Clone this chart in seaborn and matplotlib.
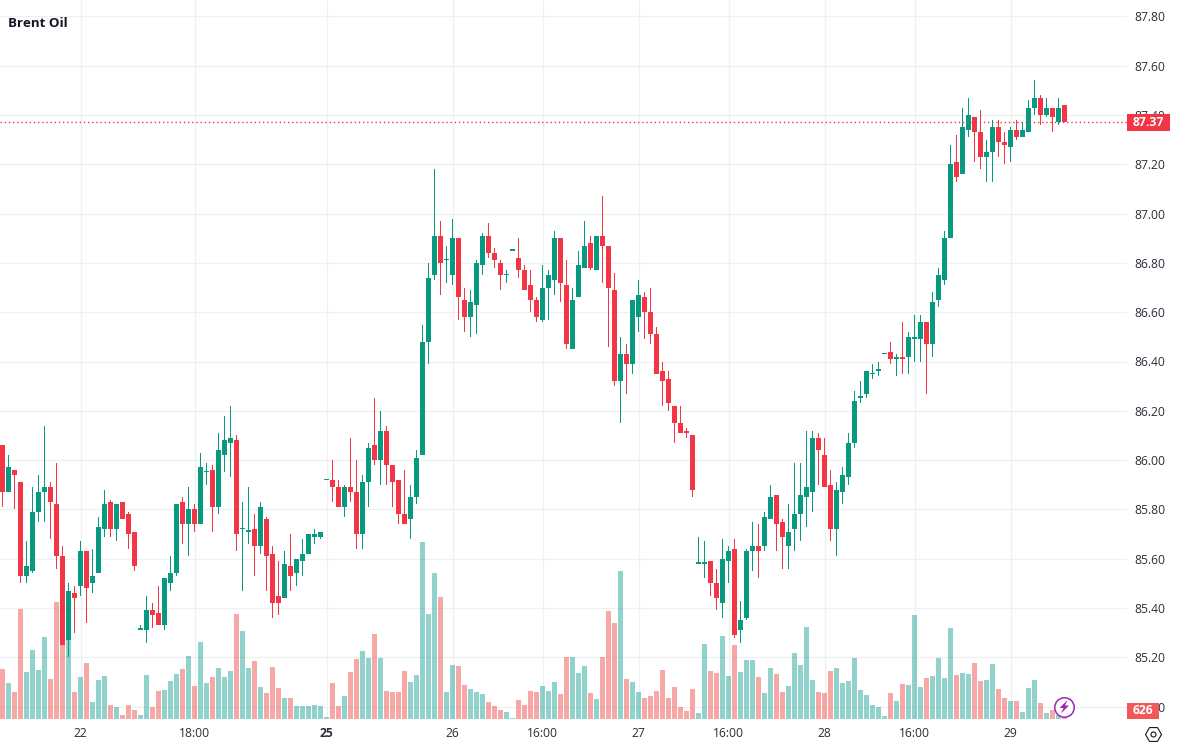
import matplotlib

matplotlib.use("Agg")
import matplotlib.pyplot as plt
import numpy as np
import pandas as pd
import seaborn as sns
from matplotlib.lines import Line2D
from matplotlib.patches import Polygon, Rectangle

# Velas de Brent Oil
opens = [
    86.06, 85.87, 85.96, 85.91, 85.53, 85.55, 85.79, 85.87, 85.89, 85.82,
    85.61, 85.27, 85.46, 85.49, 85.63, 85.50, 85.54, 85.72, 85.83, 85.72,
    85.83, 85.78, 85.71, 85.31, 85.31, 85.39, 85.38, 85.33, 85.50, 85.54,
    85.83, 85.74, 85.80, 85.74, 85.95, 85.96, 85.81, 86.02, 86.07, 86.08,
    85.72, 85.71, 85.72, 85.65, 85.76, 85.62, 85.45, 85.44, 85.57, 85.54,
    85.59, 85.62, 85.69, 85.69, 85.92, 85.92, 85.89, 85.81, 85.89, 85.87,
    85.70, 85.91, 86.06, 86.00, 86.12, 85.98, 85.92, 85.78, 85.76, 85.85,
    86.02, 86.48, 86.75, 86.91, 86.81, 86.75, 86.90, 86.65, 86.58, 86.63,
    86.79, 86.91, 86.84, 86.80, 86.75, 86.85, 86.82, 86.77, 86.71, 86.65,
    86.57, 86.70, 86.73, 86.90, 86.71, 86.45, 86.66, 86.78, 86.88, 86.77,
    86.91, 86.87, 86.69, 86.32, 86.43, 86.39, 86.58, 86.66, 86.60, 86.51,
    86.36, 86.33, 86.22, 86.15, 86.12, 86.10, 85.58, 85.58, 85.59, 85.50,
    85.42, 85.59, 85.64, 85.31, 85.36, 85.63, 85.65, 85.65, 85.76, 85.86,
    85.75, 85.65, 85.72, 85.78, 85.85, 85.87, 86.09, 86.02, 85.90, 85.72,
    85.87, 85.93, 86.07, 86.25, 86.27, 86.35, 86.36, 86.43, 86.44, 86.41,
    86.42, 86.42, 86.49, 86.49, 86.56, 86.47, 86.65, 86.73, 86.90, 87.21,
    87.16, 87.34, 87.39, 87.33, 87.23, 87.25, 87.35, 87.29, 87.27, 87.34,
    87.31, 87.33, 87.43, 87.47, 87.40, 87.43, 87.37, 87.44,
]
highs = [
    86.06, 86.02, 85.96, 85.91, 85.67, 85.89, 85.94, 86.14, 85.91, 85.99,
    85.65, 85.50, 85.49, 85.67, 85.63, 85.64, 85.77, 85.88, 85.84, 85.82,
    85.83, 85.79, 85.71, 85.33, 85.45, 85.42, 85.49, 85.52, 85.61, 85.82,
    85.85, 85.89, 85.82, 86.03, 85.99, 85.98, 86.11, 86.18, 86.22, 86.10,
    85.83, 85.89, 85.78, 85.83, 85.77, 85.65, 85.59, 85.63, 85.70, 85.60,
    85.68, 85.70, 85.72, 85.71, 85.92, 86.00, 85.92, 85.90, 86.09, 86.00,
    85.94, 86.07, 86.25, 86.20, 86.14, 85.98, 85.92, 85.96, 85.90, 86.04,
    86.55, 86.80, 87.18, 86.97, 86.87, 86.98, 86.90, 86.70, 86.69, 86.81,
    86.92, 86.96, 86.86, 86.81, 86.77, 86.85, 86.90, 86.79, 86.77, 86.66,
    86.79, 86.77, 86.93, 86.90, 86.81, 86.70, 86.85, 86.97, 86.91, 86.91,
    87.07, 86.87, 86.76, 86.50, 86.47, 86.65, 86.73, 86.68, 86.70, 86.54,
    86.40, 86.36, 86.22, 86.22, 86.13, 86.10, 85.69, 85.67, 85.59, 85.56,
    85.68, 85.65, 85.68, 85.43, 85.64, 85.75, 85.74, 85.79, 85.90, 85.86,
    85.76, 85.82, 85.99, 85.99, 86.12, 86.12, 86.11, 86.09, 85.96, 85.91,
    85.97, 86.11, 86.28, 86.32, 86.36, 86.39, 86.40, 86.43, 86.48, 86.43,
    86.56, 86.52, 86.59, 86.59, 86.56, 86.68, 86.78, 86.93, 87.28, 87.32,
    87.43, 87.47, 87.39, 87.42, 87.30, 87.38, 87.38, 87.33, 87.35, 87.38,
    87.37, 87.46, 87.54, 87.48, 87.47, 87.43, 87.47, 87.44,
]
lows = [
    85.81, 85.87, 85.80, 85.50, 85.50, 85.54, 85.75, 85.75, 85.68, 85.56,
    85.25, 85.20, 85.30, 85.45, 85.34, 85.46, 85.54, 85.69, 85.69, 85.67,
    85.76, 85.64, 85.55, 85.31, 85.26, 85.32, 85.33, 85.31, 85.47, 85.53,
    85.66, 85.61, 85.71, 85.74, 85.90, 85.71, 85.78, 85.95, 85.93, 85.63,
    85.47, 85.66, 85.53, 85.62, 85.47, 85.36, 85.37, 85.44, 85.47, 85.49,
    85.53, 85.62, 85.66, 85.68, 85.92, 85.83, 85.81, 85.77, 85.83, 85.64,
    85.64, 85.81, 85.98, 85.90, 85.90, 85.81, 85.74, 85.74, 85.68, 85.82,
    86.02, 86.39, 86.73, 86.67, 86.72, 86.71, 86.57, 86.52, 86.50, 86.51,
    86.75, 86.82, 86.78, 86.69, 86.72, 86.85, 86.74, 86.69, 86.60, 86.56,
    86.56, 86.57, 86.67, 86.64, 86.45, 86.45, 86.66, 86.78, 86.77, 86.77,
    86.72, 86.46, 86.30, 86.15, 86.27, 86.35, 86.52, 86.49, 86.47, 86.35,
    86.22, 86.20, 86.07, 86.11, 86.09, 85.85, 85.58, 85.52, 85.45, 85.39,
    85.36, 85.50, 85.28, 85.26, 85.35, 85.55, 85.52, 85.63, 85.76, 85.63,
    85.56, 85.56, 85.63, 85.67, 85.73, 85.79, 85.90, 85.89, 85.67, 85.61,
    85.82, 85.90, 86.05, 86.23, 86.25, 86.33, 86.34, 86.43, 86.39, 86.34,
    86.35, 86.35, 86.40, 86.40, 86.27, 86.42, 86.62, 86.71, 86.90, 87.13,
    87.16, 87.31, 87.21, 87.18, 87.13, 87.13, 87.23, 87.20, 87.21, 87.30,
    87.31, 87.33, 87.40, 87.36, 87.39, 87.33, 87.36, 87.37,
]
closes = [
    85.87, 85.97, 85.94, 85.53, 85.57, 85.79, 85.87, 85.89, 85.83, 85.61,
    85.25, 85.47, 85.44, 85.63, 85.48, 85.53, 85.73, 85.82, 85.72, 85.82,
    85.76, 85.70, 85.57, 85.32, 85.39, 85.37, 85.33, 85.52, 85.54, 85.82,
    85.74, 85.80, 85.74, 85.97, 85.95, 85.81, 86.04, 86.08, 86.09, 85.70,
    85.72, 85.71, 85.65, 85.81, 85.61, 85.42, 85.42, 85.58, 85.53, 85.60,
    85.62, 85.70, 85.70, 85.71, 85.92, 85.89, 85.81, 85.89, 85.87, 85.70,
    85.91, 86.05, 86.00, 86.12, 85.98, 85.91, 85.78, 85.74, 85.85, 86.01,
    86.48, 86.74, 86.91, 86.80, 86.81, 86.90, 86.66, 86.58, 86.64, 86.80,
    86.91, 86.84, 86.81, 86.75, 86.75, 86.85, 86.77, 86.69, 86.65, 86.58,
    86.70, 86.75, 86.90, 86.72, 86.47, 86.65, 86.79, 86.87, 86.78, 86.91,
    86.87, 86.70, 86.32, 86.43, 86.39, 86.65, 86.67, 86.60, 86.51, 86.35,
    86.32, 86.23, 86.15, 86.11, 86.11, 85.88, 85.58, 85.58, 85.50, 85.44,
    85.60, 85.63, 85.29, 85.35, 85.63, 85.65, 85.63, 85.77, 85.85, 85.74,
    85.69, 85.71, 85.78, 85.86, 85.89, 86.09, 86.04, 85.89, 85.72, 85.88,
    85.94, 86.07, 86.24, 86.26, 86.36, 86.35, 86.37, 86.43, 86.41, 86.42,
    86.41, 86.50, 86.50, 86.56, 86.47, 86.64, 86.75, 86.90, 87.20, 87.15,
    87.35, 87.40, 87.33, 87.23, 87.25, 87.35, 87.29, 87.28, 87.34, 87.31,
    87.34, 87.43, 87.47, 87.40, 87.43, 87.39, 87.43, 87.37,
]
volumes = [
    2100, 1680, 1410, 3900, 2010, 2670, 2070, 3060, 1800, 4110,
    2970, 3070, 1410, 1860, 2280, 1110, 1770, 1890, 1020, 960,
    720, 1020, 870, 720, 1920, 960, 1440, 1470, 1740, 1950,
    2100, 2490, 1590, 2910, 1680, 1860, 2130, 1860, 2040, 3750,
    3240, 2130, 2340, 1560, 1380, 2160, 1530, 1230, 1230, 990,
    990, 990, 1020, 990, 660, 1680, 990, 1290, 2010, 2400,
    2640, 2430, 3150, 2430, 1440, 1410, 1410, 2040, 1710, 1920,
    5910, 3750, 4980, 4260, 1410, 2220, 2190, 1620, 1500, 1410,
    1350, 1110, 990, 870, 810, 630, 1170, 1020, 1440, 1410,
    1590, 1440, 1710, 1350, 2460, 2460, 1980, 2190, 1380, 1200,
    2460, 3840, 3480, 5040, 1800, 1710, 1410, 1230, 1290, 1440,
    2070, 1230, 1560, 960, 840, 1500, 780, 2850, 2040, 1980,
    3090, 1890, 2820, 2010, 2370, 2370, 1860, 1380, 2130, 1950,
    1410, 1590, 2580, 2220, 3360, 1770, 1410, 1380, 2040, 2130,
    1680, 1740, 2430, 1470, 1320, 1020, 960, 690, 1380, 1140,
    1650, 1620, 3720, 1560, 1830, 1890, 2430, 1830, 3330, 1920,
    1980, 1950, 2280, 1740, 1770, 2250, 1500, 1230, 1140, 1140,
    810, 1530, 1770, 1080, 780, 870, 720, 626,
]

# Ejes: posicion de cada etiqueta (numero de vela) y precios
time_ticks = [13, 32, 54, 75, 90, 106, 121, 137, 152, 168]
time_labels = ["22", "18:00", "25", "26", "16:00", "27", "16:00", "28", "16:00", "29"]
price_ticks = [85.0, 85.2, 85.4, 85.6, 85.8, 86.0, 86.2, 86.4, 86.6, 86.8, 87.0, 87.2, 87.4, 87.6, 87.8]

UP = "#089981"
DOWN = "#f23645"
UP_VOL = "#26a69a"
DOWN_VOL = "#ef5350"
GRID = "#eff0f2"
TEXT = "#131722"
W, H = 1200, 747
PLOT_W, PLOT_H = 1127, 719


# Pasar de pixeles de la imagen a coordenadas de figura
def fx(px):
    return px / W


def fy(py):
    return 1 - py / H


df = pd.DataFrame({"i": np.arange(len(opens)), "open": opens, "high": highs, "low": lows, "close": closes, "volume": volumes})
df["dir"] = np.where(df["close"] >= df["open"], "up", "down")

sns.set_theme(style="white")
plt.rcParams["font.family"] = ["Open Sans", "DejaVu Sans"]

fig = plt.figure(figsize=(W / 100, H / 100), dpi=100)
rect = [0, 1 - PLOT_H / H, PLOT_W / W, PLOT_H / H]
xlim = (-2.5 / 6, (PLOT_W - 2.5) / 6)
ylim = (87 - (PLOT_H - 213.6) / 246.5, 87 + 213.6 / 246.5)

# Cuadricula y etiquetas
ax = fig.add_axes(rect, zorder=1)
ax.set_xlim(xlim)
ax.set_ylim(ylim)
ax.set_xticks(time_ticks, time_labels)
ax.set_yticks(price_ticks, [f"{p:.2f}" for p in price_ticks])
ax.yaxis.tick_right()
ax.grid(True, color=GRID, linewidth=1)
ax.tick_params(axis="both", length=0, labelsize=8.7, labelcolor="#2a2e39")
ax.tick_params(axis="y", pad=5.5)
ax.tick_params(axis="x", pad=6)
ax.get_xticklabels()[2].set_fontweight("bold")
sns.despine(ax=ax, left=True, bottom=True, top=True, right=True)

# Volumen
vol_ax = fig.add_axes(rect, zorder=2)
vol_ax.patch.set_alpha(0)
sns.barplot(
    data=df,
    x="i",
    y="volume",
    hue="dir",
    palette={"up": UP_VOL, "down": DOWN_VOL},
    native_scale=True,
    dodge=False,
    width=5 / 6,
    saturation=1,
    alpha=0.5,
    legend=False,
    linewidth=0,
    ax=vol_ax,
)
vol_ax.set_xlim(xlim)
vol_ax.set_ylim(600, 600 + PLOT_H * 30)
vol_ax.axis("off")

# Velas: mecha de 1 px y cuerpo de 5 px
price_ax = fig.add_axes(rect, zorder=3)
price_ax.patch.set_alpha(0)
colors = np.where(df["dir"] == "up", UP, DOWN)
price_ax.bar(df["i"], df["high"] - df["low"], bottom=df["low"], width=1 / 6, color=colors, linewidth=0)
body_low = df[["open", "close"]].min(axis=1)
body_h = np.maximum((df["close"] - df["open"]).abs(), 0.005)
price_ax.bar(df["i"], body_h, bottom=body_low, width=5 / 6, color=colors, linewidth=0)
last_close = closes[-1]
price_ax.axhline(last_close, color=DOWN, linewidth=1.0, linestyle=(0, (1, 2)))
price_ax.set_xlim(xlim)
price_ax.set_ylim(ylim)
price_ax.axis("off")

# Titulo y etiquetas de ultimo valor
fig.text(fx(8), fy(23.5), "Brent Oil", fontsize=9.6, fontweight="bold", color=TEXT, va="center", ha="left", zorder=11)

tag_y = 213.6 + (87 - last_close) * 246.5
fig.add_artist(Rectangle((fx(1127), fy(tag_y + 8.5)), 43 / W, 17 / H, transform=fig.transFigure, color=DOWN, lw=0, zorder=10))
fig.text(fx(1148.5), fy(tag_y), f"{last_close:.2f}", fontsize=8.7, fontweight="bold", color="white", ha="center", va="center", zorder=11)

fig.add_artist(Rectangle((fx(1127), fy(719)), 32 / W, 16 / H, transform=fig.transFigure, color="#f0585a", lw=0, zorder=10))
fig.text(fx(1143), fy(711), f"{volumes[-1]}", fontsize=8.7, fontweight="bold", color="white", ha="center", va="center", zorder=11)

# Iconos: rayo y ajustes
fig.add_artist(Line2D([fx(1064.3)], [fy(706.7)], marker="o", markersize=14, markerfacecolor="white", markeredgecolor="#9c27b0", markeredgewidth=1.1, transform=fig.transFigure, zorder=10))
bolt_px = [(1067.5, 700), (1059.5, 708), (1063.5, 708), (1061, 713.5), (1069, 705.5), (1065, 705.5)]
fig.add_artist(Polygon([(fx(x), fy(y)) for x, y in bolt_px], closed=True, transform=fig.transFigure, color="#9c27b0", lw=0, zorder=11))
fig.add_artist(Line2D([fx(1153.3)], [fy(733.5)], marker="H", markersize=11.5, markerfacecolor="none", markeredgecolor=TEXT, markeredgewidth=0.8, transform=fig.transFigure, zorder=10))
fig.add_artist(Line2D([fx(1153.3)], [fy(733.5)], marker="o", markersize=3.6, markerfacecolor="none", markeredgecolor=TEXT, markeredgewidth=0.8, transform=fig.transFigure, zorder=10))

fig.savefig("out.png", dpi=100)
plt.close(fig)
